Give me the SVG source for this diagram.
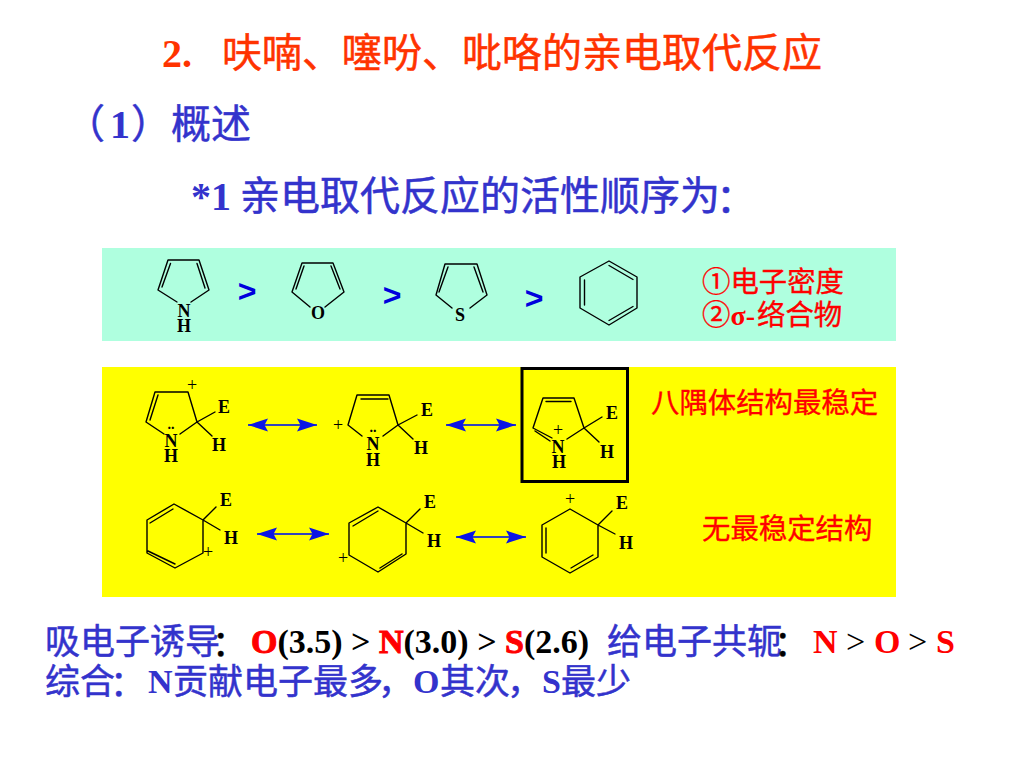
<svg xmlns="http://www.w3.org/2000/svg" width="1024" height="768" viewBox="0 0 1024 768">
<style>
text{font-family:"Noto Sans CJK SC",sans-serif}
.t40{font-size:40px;stroke-width:.5px}.t36{font-size:35px;stroke-width:.5px}.t28{font-size:28.4px;stroke-width:.35px}
.red{fill:#ff0000;stroke:#ff0000}.org{fill:#ff3300;stroke:#ff3300}.blu{fill:#3333cc;stroke:#3333cc}.blk{fill:#000;stroke:#000}
.lat{font-family:"Liberation Serif","Noto Sans CJK SC",serif;font-weight:bold;stroke:none}
.l40{font-size:40px}.l34{font-size:34px}
.reg{font-family:"Liberation Serif",serif;font-weight:normal;font-size:34px;stroke:none}
.a{font-family:"Liberation Serif",serif;font-weight:bold;font-size:18px;fill:#000;text-anchor:middle}
.p{font-family:"Liberation Serif",serif;font-size:18px;fill:#000;text-anchor:middle}
.d{font-family:"Liberation Serif",serif;font-weight:bold;font-size:14px;fill:#000;text-anchor:middle}
.gt{font-family:"Liberation Sans",sans-serif;font-weight:bold;font-size:32px;fill:#0000dd;text-anchor:middle}
.b{fill:none;stroke:#000;stroke-width:1.4;stroke-linejoin:round;stroke-linecap:round}
.arr{fill:none;stroke:#3344bb;stroke-width:2;marker-start:url(#h);marker-end:url(#h)}
</style>
<defs>
<marker id="h" markerUnits="userSpaceOnUse" markerWidth="22" markerHeight="16" refX="20" refY="7" orient="auto-start-reverse"><path d="M20 7L0 0.5L3.500 7L0 13.500Z" fill="#0a14e6"/></marker>
</defs>
<rect width="1024" height="768" fill="#fff"/>
<g id="headings">
<text class="lat l40 org" x="162" y="67">2.</text>
<text class="t40 org" x="222" y="67">呋喃、噻吩、吡咯的亲电取代反应</text>
<text class="t40 blu" x="65" y="138">（</text>
<text class="lat l40 blu" x="110" y="138">1</text>
<text class="t40 blu" x="131" y="138">）</text>
<text class="t40 blu" x="171" y="138">概述</text>
<text class="lat l40 blu" x="191" y="210">*1</text>
<text class="t40 blu" x="240" y="210">亲电取代反应的活性顺序为<tspan dx="-4" dy="2">：</tspan></text>
</g>
<g id="panel-cyan"><rect x="102" y="248" width="794" height="93" fill="#afffdf"/></g>
<g id="panel-yellow"><rect x="102" y="367" width="794" height="230" fill="#ffff00"/></g>

<g id="pyrrole">
<path class="b" d="M177 302L158 290L168 260H199L209 290L191 302M170.500 263.500L162 287M197 263.500L205 288"/>
<text class="a" x="184" y="317">N</text><text class="a" x="184" y="332">H</text>
</g>
<text class="gt" x="247" y="302">&gt;</text>
<g id="furan">
<path class="b" d="M310 307L292 292L302 263H333L344 292L325 307M304 266L296 289M331 266L340 289"/>
<text class="a" x="318" y="319">O</text>
</g>
<text class="gt" x="392" y="306">&gt;</text>
<g id="thiophene">
<path class="b" d="M452 308L436 295L445 264H477L487 295L470 308M448 267L439 292M474 267L483 292"/>
<text class="a" x="460" y="321">S</text>
</g>
<text class="gt" x="534" y="309">&gt;</text>
<g id="benzene">
<path class="b" d="M609 261L637 277V308L609 325L580 308V277ZM609 265.500L633 279.500M609 320.500L633 306.500M584.500 280V305"/>
</g>
<g id="legend">
<text class="t28 red" x="702" y="292">①电子密度</text>
<text class="t28 red" x="702" y="325">②<tspan class="lat" style="font-size:28px">σ-</tspan></text>
<text class="t28 red" x="757" y="325">络合物</text>
</g>

<g id="cation-1">
<path class="b" d="M164 434L146 422L155 392H188L197 422L180 434M158 395L150 420M197 422L215 412M197 422L212 436"/>
<text class="p" x="192" y="391">+</text><text class="d" x="171" y="429">..</text>
<text class="a" x="171" y="447">N</text><text class="a" x="171" y="462">H</text>
<text class="a" x="224" y="413">E</text><text class="a" x="219" y="451">H</text>
</g>
<g id="cation-2">
<path class="b" d="M362 436L348 425L357 395H389L398 425L383 436M361 399H388M398 425L417 415M398 425L413 439"/>
<text class="p" x="338" y="431">+</text><text class="d" x="373" y="432">..</text>
<text class="a" x="373" y="450">N</text><text class="a" x="373" y="466">H</text>
<text class="a" x="427" y="416">E</text><text class="a" x="421" y="454">H</text>
</g>
<g id="cation-3">
<rect x="522" y="368.500" width="105.500" height="113" fill="none" stroke="#000" stroke-width="3"/>
<path class="b" d="M552 438L533 428L543 398H574L584 428L567 439M546 401.500H571M535 431L550 441M584 428L602 417M584 428L599 442"/>
<text class="p" x="558" y="436">+</text>
<text class="a" x="558" y="453">N</text><text class="a" x="559" y="468">H</text>
<text class="a" x="612" y="419">E</text><text class="a" x="607" y="458">H</text>
</g>
<g id="arenium-1">
<path class="b" d="M174 504L203 520V553L175 568L147 553V520ZM150 523L173 509M148 551L175 564M203 520L216 507M203 520L220 530"/>
<text class="a" x="226" y="506">E</text><text class="a" x="231" y="544">H</text>
<text class="p" x="208" y="558">+</text>
</g>
<g id="arenium-2">
<path class="b" d="M349 523L378 507L406 523V554L378 572L349 555ZM353 526L378 511M380 568L402 554M406 523L420 509M406 523L423 533"/>
<text class="a" x="430" y="508">E</text><text class="a" x="434" y="547">H</text>
<text class="p" x="343" y="564">+</text>
</g>
<g id="arenium-3">
<path class="b" d="M570 509L598 525V557L570 573L542 557V525ZM546 528V553M571 568L593 555M598 525L612 511M598 525L615 534"/>
<text class="a" x="622" y="509">E</text><text class="a" x="626" y="549">H</text>
<text class="p" x="570" y="505">+</text>
</g>
<g id="connectors">
<path class="arr" d="M248 425H317"/>
<path class="arr" d="M446 425H516"/>
<path class="arr" d="M257 534H329"/>
<path class="arr" d="M456 537H526"/>
</g>
<g id="labels-right">
<text class="t28 red" x="651" y="413">八隅体结构最稳定</text>
<text class="t28 red" x="702" y="539">无最稳定结构</text>
</g>
<g id="notes">
<text class="t36 blu" x="45" y="654">吸电子诱导<tspan class="blk" dx="-8" dy="2">：</tspan></text>
<text class="lat l34" x="251" y="653"><tspan class="red">O</tspan><tspan fill="#000">(3.5) &gt; </tspan><tspan class="red">N</tspan><tspan fill="#000">(3.0) &gt; </tspan><tspan class="red">S</tspan><tspan fill="#000">(2.6)</tspan></text>
<text class="t36 blu" x="607" y="654">给电子共轭<tspan class="blk" dx="-8" dy="2">：</tspan></text>
<text class="lat l34 red" x="813" y="653">N</text>
<text class="reg" fill="#000" x="846" y="653">&gt;</text>
<text class="lat l34 red" x="874" y="653">O</text>
<text class="reg" fill="#000" x="908" y="653">&gt;</text>
<text class="lat l34 red" x="936" y="653">S</text>
<text class="t36 blu" x="45" y="694">综合<tspan dx="-5" dy="2">：</tspan></text>
<text class="lat l34 blu" x="148" y="693">N</text>
<text class="t36 blu" x="173" y="694">贡献电子最多<tspan dx="-5">，</tspan></text>
<text class="lat l34 blu" x="413" y="693">O</text>
<text class="t36 blu" x="440" y="694">其次<tspan dx="-3">，</tspan></text>
<text class="lat l34 blu" x="542" y="693">S</text>
<text class="t36 blu" x="561" y="694">最少</text>
</g>
</svg>
